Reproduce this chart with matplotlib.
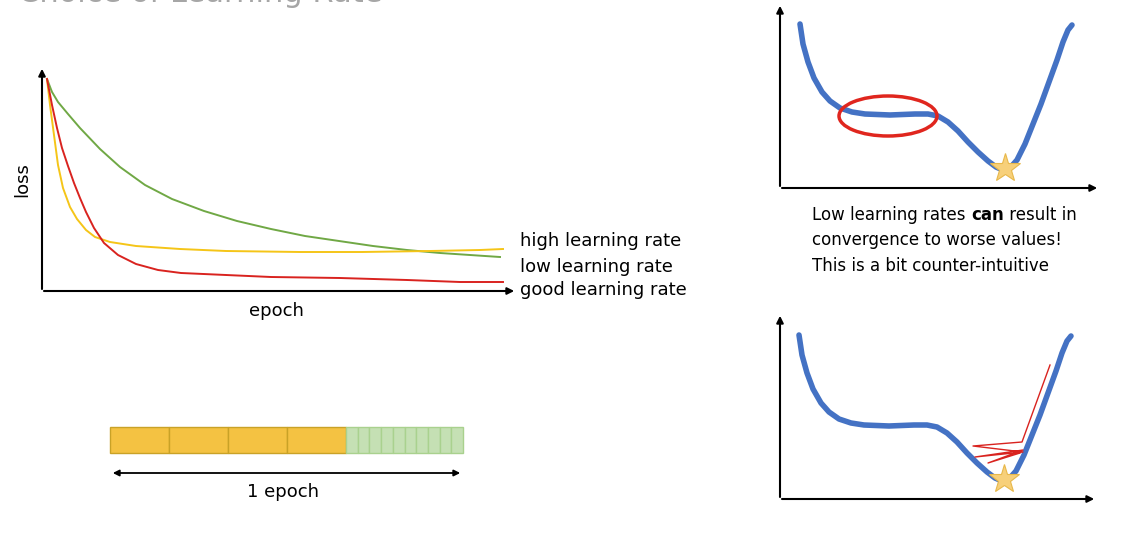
"""Learning-rate slide: loss curves, epoch bar and two loss-landscape sketches."""
from __future__ import annotations

import matplotlib
matplotlib.use("Agg")
import matplotlib.pyplot as plt
from matplotlib.patches import Rectangle, Ellipse

INK, GREY = "#000000", "#A6A6A6"
GREEN, YELLOW, RED, BLUE = "#70A845", "#F5C518", "#D9231F", "#4472C4"

# curves, in slide pixels (x, y) with y pointing down
LOSS = {
    "low": [(47, 79), (52, 92), (58, 102), (68, 114), (80, 128), (100, 149), (120, 167),
            (145, 185), (172, 199), (204, 211), (237, 221), (271, 229), (305, 236),
            (339, 241), (373, 246), (407, 250), (440, 253), (470, 255), (500, 257)],
    "high": [(47, 79), (50, 105), (54, 135), (58, 165), (63, 188), (70, 207), (77, 219),
             (86, 230), (95, 237), (110, 242), (136, 246), (180, 249), (226, 251),
             (300, 252), (362, 252), (430, 251), (480, 250), (503, 249)],
    "good": [(47, 79), (52, 105), (57, 128), (62, 148), (68, 166), (74, 183), (80, 198),
             (86, 212), (94, 228), (104, 243), (118, 255), (136, 264), (158, 270),
             (181, 273), (226, 275), (271, 277), (340, 278), (407, 280), (460, 282),
             (503, 282)],
}
LANDSCAPE = [(0, 0), (3, 20), (8, 38), (14, 54), (22, 68), (30, 77), (40, 84), (52, 88),
             (65, 90), (90, 91), (115, 90), (128, 90), (138, 92), (148, 98), (158, 107),
             (168, 118), (178, 128), (188, 137), (196, 143), (203, 146), (210, 144),
             (217, 136), (225, 120), (233, 100), (241, 80), (249, 58), (257, 36),
             (263, 18), (268, 6), (272, 1)]
ZIGZAG = [(1050, 365), (1022, 442), (973, 446), (1023, 452), (975, 457),
          (1023, 450), (988, 463), (1020, 453)]


def axis_arrows(ax, x0, y0, ytop, xend):
    kw = dict(arrowstyle="-|>", color=INK, lw=1.5, mutation_scale=10)
    ax.annotate("", xy=(x0, ytop), xytext=(x0, y0 + 0.8), arrowprops=kw)
    ax.annotate("", xy=(xend, y0), xytext=(x0 - 0.8, y0), arrowprops=kw)


def landscape(ax, dx, dy):
    xs = [p[0] + dx for p in LANDSCAPE]
    ys = [p[1] + dy for p in LANDSCAPE]
    ax.plot(xs, ys, color=BLUE, lw=4, solid_capstyle="round", solid_joinstyle="round",
            zorder=2)
    ax.plot(dx + 205, dy + 144, marker="*", ms=22, color="#F7D07A",
            mec="#E8B84A", mew=0.8, zorder=4)


fig = plt.figure(figsize=(11.34, 5.44), dpi=100)
ax = fig.add_axes([0, 0, 1, 1])
ax.set_xlim(0, 1134); ax.set_ylim(544, 0)
ax.axis("off")

ax.text(18, -6, "Choice of Learning Rate", fontsize=22, color=GREY, va="center")

# loss vs epoch
axis_arrows(ax, 42, 291, 66, 517)
for key, color in (("low", GREEN), ("high", YELLOW), ("good", RED)):
    ax.plot(*zip(*LOSS[key]), color=color, lw=1.4, solid_joinstyle="round")
for y, label in ((241, "high learning rate"), (267, "low learning rate"),
                 (290, "good learning rate")):
    ax.text(520, y, label, fontsize=13, va="center")
ax.text(276, 311, "epoch", fontsize=13, ha="center", va="center")
ax.text(22, 180, "loss", fontsize=13, rotation=90, ha="center", va="center")

# one epoch = batches
for i in range(4):
    ax.add_patch(Rectangle((110 + i * 59, 427), 59, 26, fc="#F4C242", ec="#C9A227", lw=1))
for i in range(10):
    ax.add_patch(Rectangle((346 + i * 11.7, 427), 11.7, 26, fc="#C5E0B4", ec="#A9D18E", lw=1))
ax.annotate("", xy=(463, 473), xytext=(110, 473),
            arrowprops=dict(arrowstyle="<|-|>", color=INK, lw=1.3, mutation_scale=9))
ax.text(283, 492, "1 epoch", fontsize=13, ha="center", va="center")

# low learning rate stuck on plateau
axis_arrows(ax, 780, 188, 3, 1100)
landscape(ax, 800, 24)
ax.add_patch(Ellipse((888, 116), 98, 40, fill=False, ec="#E0261E", lw=2.5, zorder=3))
for y, parts in ((215, None), (240, "convergence to worse values!"),
                 (266, "This is a bit counter-intuitive")):
    if parts is None:
        t = ax.text(812, y, "Low learning rates ", fontsize=12, va="center")
        t2 = ax.annotate("can", xycoords=t, xy=(1, 0.5), va="center", fontsize=12,
                         weight="bold")
        ax.annotate(" result in", xycoords=t2, xy=(1, 0.5), va="center", fontsize=12)
    else:
        ax.text(812, y, parts, fontsize=12, va="center")

# high learning rate bouncing around
axis_arrows(ax, 780, 499, 313, 1097)
landscape(ax, 799, 335)
ax.plot(*zip(*ZIGZAG), color=RED, lw=1, zorder=3)

fig.savefig("out.png", dpi=100, facecolor="white")
plt.close(fig)
